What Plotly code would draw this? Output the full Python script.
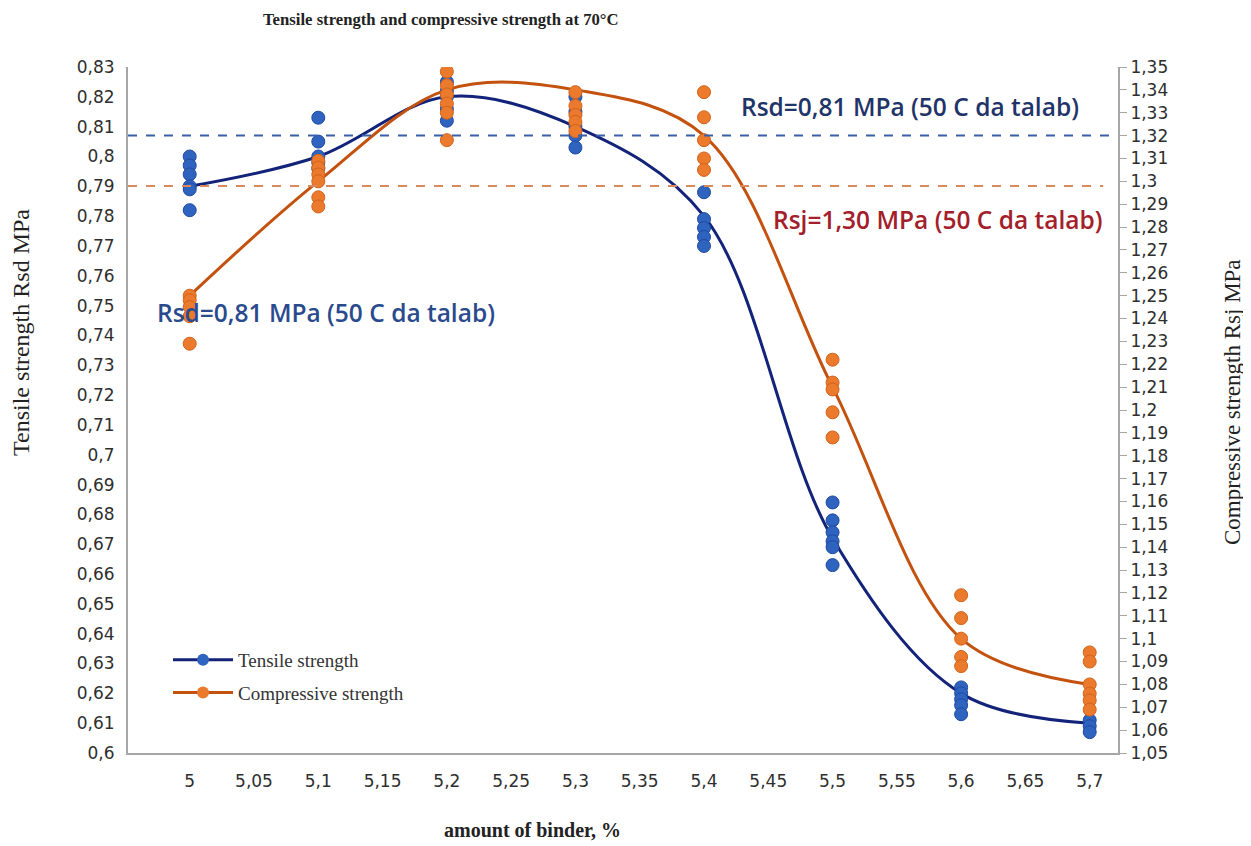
import plotly.graph_objects as go

# ---- data ----
binder = [5.0, 5.1, 5.2, 5.3, 5.4, 5.5, 5.6, 5.7]

tensile_curve = [0.79, 0.80, 0.82, 0.81, 0.78, 0.672, 0.62, 0.61]
compressive_curve = [1.25, 1.30, 1.34, 1.34, 1.32, 1.21, 1.10, 1.08]

tensile_points = [
    [0.800, 0.797, 0.794, 0.790, 0.789, 0.782],
    [0.813, 0.805, 0.800, 0.798, 0.796],
    [0.825, 0.822, 0.820, 0.816, 0.812],
    [0.820, 0.815, 0.810, 0.807, 0.803],
    [0.788, 0.779, 0.776, 0.773, 0.770],
    [0.684, 0.678, 0.674, 0.671, 0.669, 0.663],
    [0.622, 0.620, 0.618, 0.616, 0.613],
    [0.611, 0.609, 0.607],
]
compressive_points = [
    [1.250, 1.248, 1.245, 1.241, 1.229],
    [1.309, 1.306, 1.303, 1.300, 1.293, 1.289],
    [1.348, 1.342, 1.338, 1.334, 1.330, 1.318],
    [1.339, 1.333, 1.329, 1.326, 1.322],
    [1.339, 1.328, 1.318, 1.310, 1.305],
    [1.222, 1.212, 1.209, 1.199, 1.188],
    [1.119, 1.109, 1.100, 1.092, 1.088],
    [1.094, 1.090, 1.080, 1.076, 1.073, 1.069],
]

rsd_limit = 1.32   # blue dashed line (right-axis scale)
rsj_limit = 1.298  # orange dashed line (right-axis scale)

x_tickvals = [4.95, 5.0, 5.05, 5.1, 5.15, 5.2, 5.25, 5.3, 5.35, 5.4, 5.45, 5.5, 5.55, 5.6, 5.65, 5.7]
x_ticktext = ["4,95", "5", "5,05", "5,1", "5,15", "5,2", "5,25", "5,3", "5,35", "5,4",
              "5,45", "5,5", "5,55", "5,6", "5,65", "5,7"]

left_tickvals = [0.6, 0.61, 0.62, 0.63, 0.64, 0.65, 0.66, 0.67, 0.68, 0.69, 0.7, 0.71,
                 0.72, 0.73, 0.74, 0.75, 0.76, 0.77, 0.78, 0.79, 0.8, 0.81, 0.82, 0.83]
left_ticktext = ["0,6", "0,61", "0,62", "0,63", "0,64", "0,65", "0,66", "0,67", "0,68", "0,69",
                 "0,7", "0,71", "0,72", "0,73", "0,74", "0,75", "0,76", "0,77", "0,78", "0,79",
                 "0,8", "0,81", "0,82", "0,83"]

right_tickvals = [1.05, 1.06, 1.07, 1.08, 1.09, 1.1, 1.11, 1.12, 1.13, 1.14, 1.15, 1.16,
                  1.17, 1.18, 1.19, 1.2, 1.21, 1.22, 1.23, 1.24, 1.25, 1.26, 1.27, 1.28,
                  1.29, 1.3, 1.31, 1.32, 1.33, 1.34, 1.35]
right_ticktext = ["1,05", "1,06", "1,07", "1,08", "1,09", "1,1", "1,11", "1,12", "1,13", "1,14",
                  "1,15", "1,16", "1,17", "1,18", "1,19", "1,2", "1,21", "1,22", "1,23", "1,24",
                  "1,25", "1,26", "1,27", "1,28", "1,29", "1,3", "1,31", "1,32", "1,33", "1,34",
                  "1,35"]

# ---- styles ----
BLUE_LINE = "#14237a"
BLUE_MARK = "#2f63c0"
BLUE_EDGE = "#1f4aa0"
ORANGE_LINE = "#c4520f"
ORANGE_MARK = "#ec7a2c"
ORANGE_EDGE = "#d0641c"
TICK_COLOR = "#2e2e2e"
SERIF = "Liberation Serif, Times New Roman, serif"
SANS = "DejaVu Sans, Verdana, sans-serif"
ANN = "Open Sans, sans-serif"

W, H = 1251, 846
OFF = 8  # page offset of the figure div inside the browser window
# plot area in window pixels
PL, PR, PT, PB = 128, 1118, 67, 753
L, R, T, B = PL - OFF, PR - OFF, PT - OFF, PB - OFF

fig = go.Figure()

fig.add_trace(go.Scatter(
    x=binder, y=tensile_curve, mode="lines",
    line=dict(color=BLUE_LINE, width=3, shape="spline", smoothing=1.0),
    showlegend=False, yaxis="y"))
fig.add_trace(go.Scatter(
    x=binder, y=compressive_curve, mode="lines",
    line=dict(color=ORANGE_LINE, width=3, shape="spline", smoothing=1.0),
    showlegend=False, yaxis="y2"))

tx, ty = [], []
for xv, vals in zip(binder, tensile_points):
    for v in vals:
        tx.append(xv)
        ty.append(v)
cx, cy = [], []
for xv, vals in zip(binder, compressive_points):
    for v in vals:
        cx.append(xv)
        cy.append(v)

fig.add_trace(go.Scatter(
    x=tx, y=ty, mode="markers", yaxis="y", showlegend=False,
    marker=dict(size=13, color=BLUE_MARK, line=dict(color=BLUE_EDGE, width=1))))
fig.add_trace(go.Scatter(
    x=cx, y=cy, mode="markers", yaxis="y2", showlegend=False,
    marker=dict(size=13, color=ORANGE_MARK, line=dict(color=ORANGE_EDGE, width=1))))

fig.add_trace(go.Scatter(
    x=[None], y=[None], mode="lines+markers", name="Tensile strength", yaxis="y",
    legendgroup="a",
    line=dict(color=BLUE_LINE, width=3), marker=dict(size=12, color=BLUE_MARK)))
fig.add_trace(go.Scatter(
    x=[None], y=[None], mode="lines+markers", name="Compressive strength", yaxis="y",
    legendgroup="b",
    line=dict(color=ORANGE_LINE, width=3), marker=dict(size=12, color=ORANGE_MARK)))

fig.add_shape(type="line", xref="paper", x0=0, x1=1, yref="y2", y0=rsd_limit, y1=rsd_limit,
              line=dict(color="#3b5ea8", width=2, dash="dash"))
fig.add_shape(type="line", xref="paper", x0=0, x1=0.985, yref="y2", y0=rsj_limit, y1=rsj_limit,
              line=dict(color="#d88a5c", width=2, dash="dash"))


def px_x(p):
    return (p - OFF - L) / (R - L)


def px_y(p):
    return (B - (p - OFF)) / (B - T)


fig.update_layout(
    width=W, height=H,
    paper_bgcolor="white", plot_bgcolor="white",
    margin=dict(l=L, r=W - R, t=T, b=H - B),
    showlegend=True,
    legend=dict(x=px_x(168), y=px_y(641), xanchor="left", yanchor="top",
                font=dict(family=SERIF, size=19, color="#333333"),
                bgcolor="rgba(0,0,0,0)", tracegroupgap=5, itemwidth=60),
    xaxis=dict(range=[4.952, 5.722], tickvals=x_tickvals, ticktext=x_ticktext,
               showgrid=False, zeroline=False, showline=True, linecolor="#a6a6a6", linewidth=2,
               ticks="", ticklabelstandoff=12,
               tickfont=dict(family=SANS, size=17, color=TICK_COLOR)),
    yaxis=dict(range=[0.6, 0.83], tickvals=left_tickvals, ticktext=left_ticktext,
               showgrid=False, zeroline=False, showline=True, linecolor="#a6a6a6", linewidth=2,
               ticks="", ticklabelstandoff=8,
               tickfont=dict(family=SANS, size=17, color=TICK_COLOR)),
    yaxis2=dict(range=[1.05, 1.35], tickvals=right_tickvals, ticktext=right_ticktext,
                overlaying="y", side="right",
                showgrid=False, zeroline=False, showline=True, linecolor="#a6a6a6", linewidth=2,
                ticks="outside", ticklen=7, tickcolor="#a6a6a6",
                tickfont=dict(family=SANS, size=17, color=TICK_COLOR)),
)

ann = [
    dict(text="<b>Tensile strength and compressive strength at 70°C</b>", x=441, y=20,
         font=dict(family=SERIF, size=16.7, color="#222222")),
    dict(text="<b>amount of binder, %</b>", x=532, y=830,
         font=dict(family=SERIF, size=20, color="#222222")),
    dict(text="Tensile strength Rsd MPa", x=21, y=333, textangle=-90,
         font=dict(family=SERIF, size=24, color="#222222")),
    dict(text="Compressive strength Rsj MPa", x=1232, y=402, textangle=-90,
         font=dict(family=SERIF, size=23, color="#222222")),
    dict(text="Rsd=0,81 MPa (50 C da talab)", x=910, y=107,
         font=dict(family=ANN, size=24.5, color="#1f3468", weight=600)),
    dict(text="Rsj=1,30 MPa (50 C da talab)", x=938, y=220,
         font=dict(family=ANN, size=24.5, color="#a3202a", weight=600)),
    dict(text="Rsd=0,81 MPa (50 C da talab)", x=326, y=312,
         font=dict(family=ANN, size=24.5, color="#2a4a8e", weight=600)),
]
for a in ann:
    fig.add_annotation(text=a["text"], x=px_x(a["x"]), y=px_y(a["y"]), xref="paper", yref="paper",
                       xanchor="center", yanchor="middle", showarrow=False,
                       textangle=a.get("textangle", 0), font=a["font"])

fig.write_html("out.html")
